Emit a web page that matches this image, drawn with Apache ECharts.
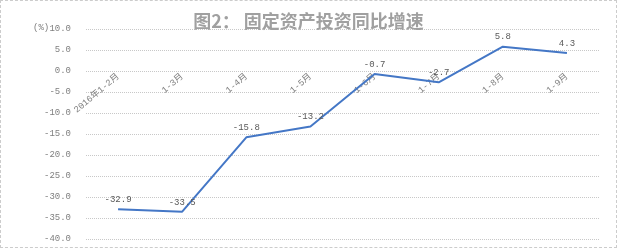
<!DOCTYPE html>
<html><head><meta charset="utf-8">
<script src="https://cdn.jsdelivr.net/npm/echarts@6/dist/echarts.min.js"></script>
<style>html,body{margin:0;padding:0;background:#fff}#c{width:617px;height:248px;box-sizing:border-box;border:1px dashed #ccc}</style>
</head><body><div id="c"></div>
<script>
const categories = ['2016年1-2月','1-3月','1-4月','1-5月','1-6月','1-7月','1-8月','1-9月'];
const growth = [-32.9,-33.5,-15.8,-13.2,-0.7,-2.7,5.8,4.3];
const chart = echarts.init(document.getElementById('c'));
const ff = '"Liberation Mono","Noto Sans CJK SC",monospace';
chart.setOption({
  animation:false,
  title:{text:'图2： 固定资产投资同比增速',left:'center',top:6,textStyle:{fontFamily:'"Noto Sans CJK SC",sans-serif',fontSize:18,fontWeight:'bold',color:'#a0a0a0'}},
  graphic:[{type:'text',left:32,top:22,style:{text:'(%)',font:'9px '+ff,fill:'#7f7f7f'}}],
  grid:{left:85,right:17,top:28,bottom:8,containLabel:false,outerBoundsMode:'none'},
  xAxis:{type:'category',data:categories,boundaryGap:true,position:'bottom',offset:-169.6,
    axisLine:{show:false,onZero:false},
    axisTick:{show:false},
    axisLabel:{rotate:40,fontSize:9,color:'#7f7f7f',fontFamily:ff,margin:6,interval:0}},
  yAxis:{type:'value',min:-40,max:10,interval:5,
    axisLine:{show:false},axisTick:{show:false},
    axisLabel:{formatter:v=>v.toFixed(1),fontSize:9,color:'#7f7f7f',fontFamily:ff,margin:15},
    splitLine:{lineStyle:{color:'#c8c8c8',type:'dotted'}}},
  series:[{type:'line',data:growth,symbol:'circle',symbolSize:0.1,showSymbol:true,itemStyle:{color:'#4477c6'},
    lineStyle:{color:'#4477c6',width:2},
    label:{show:true,position:'top',distance:5,fontSize:9,color:'#595959',fontFamily:ff,formatter:p=>p.value.toFixed(1)}}]
});
</script></body></html>
